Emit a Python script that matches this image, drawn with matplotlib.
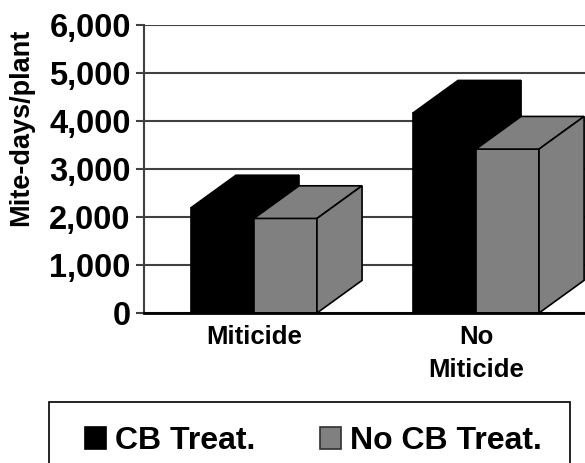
import matplotlib
matplotlib.use("Agg")
import matplotlib.pyplot as plt
from matplotlib.patches import Patch, Polygon, Rectangle

categories = ["Miticide", "No\nMiticide"]
series_names = ["CB Treat.", "No CB Treat."]
cb_treat = [2190, 4165]
no_cb_treat = [1970, 3415]
y_ticks = [0, 1000, 2000, 3000, 4000, 5000, 6000]

BLACK = "#000000"
GRAY = "#808080"
BAR_W = 0.284
DEPTH_X = 0.203
DEPTH_Y = 680

plt.rcParams["font.family"] = ["Liberation Sans", "DejaVu Sans"]
plt.rcParams["font.weight"] = "bold"

W, H = 585, 463
fig = plt.figure(figsize=(W / 100, H / 100), dpi=100)
ax = fig.add_axes([144 / W, 1 - 313 / H, 441 / W, 288 / H])
ax.set_xlim(-0.495, 1.491)
ax.set_ylim(0, 6000)


def draw_bar(x0, value, color, z):
    # front, top and side faces of one 3D-looking column
    x1 = x0 + BAR_W
    faces = [
        [(x0, 0), (x1, 0), (x1, value), (x0, value)],
        [(x0, value), (x1, value), (x1 + DEPTH_X, value + DEPTH_Y), (x0 + DEPTH_X, value + DEPTH_Y)],
        [(x1, 0), (x1 + DEPTH_X, DEPTH_Y), (x1 + DEPTH_X, value + DEPTH_Y), (x1, value)],
    ]
    for face in faces:
        ax.add_patch(Polygon(face, closed=True, facecolor=color, edgecolor="black",
                             linewidth=1.2, zorder=z, clip_on=False, joinstyle="miter"))


for i in range(len(categories)):
    draw_bar(i - BAR_W, cb_treat[i], BLACK, 3 + i * 2)
    draw_bar(i, no_cb_treat[i], GRAY, 4 + i * 2)

ax.set_yticks(y_ticks)
ax.set_yticklabels([f"{v:,}" for v in y_ticks], fontsize=23.5, fontweight="bold")
ax.set_xticks(range(len(categories)))
ax.set_xticklabels(categories, fontsize=18.5, fontweight="bold", linespacing=1.45)
ax.tick_params(axis="x", length=0, pad=9)
ax.tick_params(axis="y", length=6, width=1.5, color="#404040", pad=3.5)
ax.yaxis.grid(True, color="#404040", linewidth=1.5)
ax.set_axisbelow(True)
for side in ["top", "right"]:
    ax.spines[side].set_visible(False)
ax.spines["left"].set_color("#404040")
ax.spines["left"].set_linewidth(1.5)
ax.spines["bottom"].set_linewidth(2)
ax.spines["bottom"].set_zorder(10)

ax.set_ylabel("Mite-days/plant", fontsize=19.5, fontweight="bold")
ax.yaxis.set_label_coords((34 - 144) / 441, 0.645)

# legend frame runs past the bottom edge, so it is drawn separately
fig.add_artist(Rectangle((49 / W, 1 - 476 / H), 521 / W, 74 / H, transform=fig.transFigure,
                         facecolor="white", edgecolor="black", linewidth=1.2))
handles = [
    Patch(facecolor=BLACK, edgecolor="black", linewidth=1.2),
    Patch(facecolor=GRAY, edgecolor="#303030", linewidth=1.2),
]
leg = fig.legend(
    handles, series_names, ncol=2, loc="center",
    bbox_to_anchor=(313.5 / W, 1 - 441 / H),
    prop={"family": "Liberation Sans", "weight": "bold", "size": 23},
    frameon=False, borderpad=0, handlelength=0.66, handleheight=0.68,
    handletextpad=0.3, columnspacing=2.0, borderaxespad=0,
)

fig.savefig("out.png", dpi=100)
plt.close(fig)
